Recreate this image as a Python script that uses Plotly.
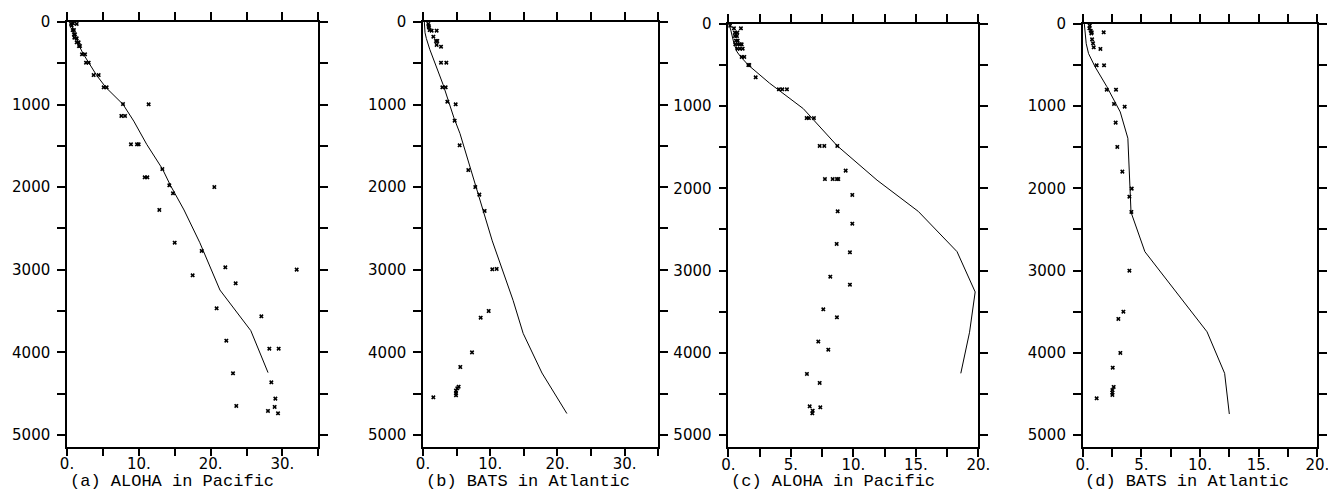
import plotly.graph_objects as go

# ---------------- data ----------------
# (a) ALOHA in Pacific  -- observations
a_obs_x = [0.56, 0.65, 0.84, 1.35, 0.79, 0.97, 0.97, 1.11, 1.02, 1.35, 1.35, 1.62, 1.67, 1.81,
           2.09, 2.51, 2.65, 3.02, 3.71, 4.41, 5.11, 5.52, 7.80, 11.37, 7.57, 8.08, 8.91, 9.75,
           9.98, 13.28, 10.82, 11.19, 14.25, 20.52, 14.76, 12.86, 15.0, 18.76, 22.05, 17.50,
           31.99, 23.49, 20.84, 27.07, 22.19, 28.18, 29.48, 23.12, 28.46, 29.02, 23.58, 28.92,
           27.99, 29.39]
a_obs_d = [24, 44, 16, 24, 97, 97, 149, 149, 190, 198, 246, 246, 291, 291,
           391, 391, 492, 492, 642, 642, 791, 791, 993, 997, 1138, 1138, 1481, 1481,
           1481, 1780, 1881, 1881, 1977, 1998, 2074, 2276, 2672, 2772, 2970, 3067,
           2998, 3164, 3466, 3563, 3858, 3955, 3955, 4253, 4362, 4560, 4649, 4661,
           4709, 4738]
a_line_x = [0.4, 0.7, 1.0, 1.7, 2.3, 3.0, 4.1, 5.4, 7.8, 9.3, 11.1, 13.3, 14.4, 16.3, 18.5,
            21.3, 25.6, 28.0]
a_line_d = [0, 50, 137, 291, 391, 492, 642, 791, 997, 1200, 1481, 1780, 1977, 2276, 2672,
            3245, 3737, 4245]

# (b) BATS in Atlantic
b_obs_x = [0.79, 0.84, 0.89, 0.99, 1.29, 2.03, 1.54, 1.93, 2.13, 2.03, 2.68, 2.68, 3.47,
           2.88, 3.37, 3.62, 4.86, 4.71, 5.45, 6.74, 7.78, 8.38, 9.17, 10.31, 10.96, 9.77,
           8.58, 7.29, 5.55, 5.30, 5.10, 4.91, 4.91, 4.91, 1.54]
b_obs_d = [24, 48, 65, 97, 105, 105, 178, 230, 230, 278, 299, 492, 492,
           791, 791, 965, 997, 1195, 1493, 1792, 1998, 2090, 2288, 2994, 2990, 3499,
           3580, 4000, 4177, 4415, 4435, 4463, 4495, 4520, 4544]
b_line_x = [0.2, 0.3, 0.5, 1.0, 3.0, 4.6, 5.5, 7.0, 8.7, 10.3, 13.4, 14.9, 17.7, 21.4]
b_line_d = [0, 130, 200, 330, 760, 1160, 1350, 1750, 2200, 2650, 3370, 3770, 4250, 4740]

# (c) ALOHA in Pacific
c_obs_x = [0.13, 0.45, 1.01, 0.53, 0.72, 0.53, 0.69, 0.61, 0.75, 0.56, 0.75, 0.93, 1.07,
           0.72, 0.93, 1.15, 1.07, 1.28, 1.60, 1.68, 2.19, 4.05, 4.32, 4.69, 6.27, 6.45,
           6.85, 7.31, 7.68, 8.72, 9.39, 7.73, 8.35, 8.69, 8.80, 9.92, 8.75, 9.92, 8.67,
           9.73, 8.16, 9.73, 7.60, 8.69, 7.20, 8.00, 6.29, 7.31, 6.51, 7.36, 6.75, 6.72]
c_obs_d = [20, 53, 53, 105, 105, 146, 146, 203, 203, 247, 247, 247, 247,
           300, 300, 300, 401, 401, 499, 499, 649, 795, 795, 795, 1144, 1144,
           1144, 1484, 1484, 1484, 1784, 1886, 1886, 1886, 1886, 2080, 2279, 2429, 2676,
           2778, 3074, 3171, 3471, 3569, 3864, 3962, 4258, 4367, 4651, 4663, 4704, 4736]
c_line_x = [0.05, 0.2, 0.45, 0.7, 1.0, 1.6, 3.3, 6.0, 8.7, 11.9, 15.2, 18.3, 19.75, 19.3, 18.6]
c_line_d = [0, 75, 235, 340, 400, 500, 720, 1030, 1480, 1900, 2280, 2770, 3260, 3750, 4250]

# (d) BATS in Atlantic
d_obs_x = [0.60, 0.57, 0.68, 0.77, 0.74, 1.79, 0.80, 0.88, 0.94, 1.51, 1.19, 1.82, 2.05,
           2.84, 2.67, 3.58, 2.81, 2.95, 3.38, 4.18, 3.98, 4.15, 3.98, 3.47, 3.04, 3.21,
           2.56, 2.64, 2.53, 2.53, 2.53, 1.19]
d_obs_d = [20, 53, 81, 101, 114, 101, 187, 235, 284, 304, 503, 503, 799,
           799, 973, 1006, 1200, 1496, 1796, 2003, 2101, 2287, 3001, 3500, 3589, 4002,
           4181, 4416, 4453, 4485, 4513, 4554]
d_line_x = [0.14, 0.2, 0.3, 0.5, 1.05, 2.05, 2.75, 3.2, 3.85, 4.03, 4.12, 5.3, 10.6, 12.1, 12.5]
d_line_d = [0, 115, 240, 360, 520, 760, 945, 1070, 1390, 2000, 2290, 2770, 3745, 4250, 4745]

titles = ["(a) ALOHA in Pacific", "(b) BATS in Atlantic",
          "(c) ALOHA in Pacific", "(d) BATS in Atlantic"]
x_max = [35, 35, 20, 20]
x_step = [5, 5, 2.5, 2.5]
y_ticks = list(range(0, 5001, 500))
y_labels = [str(v) if v % 1000 == 0 else "" for v in y_ticks]

# ---------------- layout geometry (pixels) ----------------
W, H = 1328, 502
panels_px = [(67, 318.3, 22, 446.7), (423, 658.3, 22, 446.7),
             (728.3, 978.3, 24, 447.3), (1082.7, 1317.3, 24, 447.3)]
y_bottom = [5142, 5142, 5150, 5150]

obs = [(a_obs_x, a_obs_d), (b_obs_x, b_obs_d), (c_obs_x, c_obs_d), (d_obs_x, d_obs_d)]
lines = [(a_line_x, a_line_d), (b_line_x, b_line_d), (c_line_x, c_line_d), (d_line_x, d_line_d)]

fig = go.Figure()
layout = dict(width=W, height=H, margin=dict(l=0, r=0, t=0, b=0, autoexpand=False),
              paper_bgcolor="white", plot_bgcolor="white", showlegend=False,
              font=dict(family="DejaVu Sans", color="black", size=15))
annotations = []
tick_font = dict(family="DejaVu Sans", size=15, color="black")

for i in range(4):
    sfx = "" if i == 0 else str(i + 1)
    xa, ya = "x" + sfx, "y" + sfx
    x0, x1, y0, y1 = panels_px[i]
    n = int(round(x_max[i] / x_step[i]))
    xt = [k * x_step[i] for k in range(n + 1)]
    xl = []
    for v in xt:
        if x_max[i] == 35:
            xl.append(f"{int(v)}." if v % 10 == 0 else "")
        else:
            xl.append(f"{int(v)}." if v % 5 == 0 else "")
    layout["xaxis" + sfx] = dict(
        domain=[x0 / W, x1 / W], range=[0, x_max[i]], anchor=ya, automargin=False,
        tickmode="array", tickvals=xt, ticktext=xl, ticklabeloverflow="allow",
        ticks="outside", ticklen=8, tickwidth=1.5, tickcolor="black",
        showline=True, linewidth=1.5, linecolor="black", mirror="allticks",
        showgrid=False, zeroline=False, tickfont=tick_font, ticklabelstandoff=-5)
    layout["yaxis" + sfx] = dict(
        domain=[1 - y1 / H, 1 - y0 / H], range=[y_bottom[i], 0], anchor=xa, automargin=False,
        tickmode="array", tickvals=y_ticks, ticktext=y_labels, ticklabeloverflow="allow",
        ticks="outside", ticklen=8, tickwidth=1.5, tickcolor="black",
        showline=True, linewidth=1.5, linecolor="black", mirror="allticks",
        showgrid=False, zeroline=False, tickfont=tick_font, ticklabelstandoff=4)
    lx, ld = lines[i]
    fig.add_trace(go.Scatter(x=lx, y=ld, mode="lines", xaxis=xa, yaxis=ya,
                             line=dict(color="black", width=1), hoverinfo="skip"))
    ox, od = obs[i]
    fig.add_trace(go.Scatter(x=ox, y=od, mode="markers", xaxis=xa, yaxis=ya,
                             marker=dict(symbol="x", size=4, color="black",
                                         line=dict(width=0)), hoverinfo="skip"))
    annotations.append(dict(text=titles[i], xref="paper", yref="paper",
                            x=(x0 + 0.5) / W, y=1 - 481 / H, xanchor="left", yanchor="middle",
                            showarrow=False,
                            font=dict(family="Liberation Mono", size=17, color="black")))

layout["annotations"] = annotations
fig.update_layout(**layout)
fig.write_html("out.html", config={"displayModeBar": False},
               post_script="document.body.style.margin='0';document.body.style.overflow='hidden';")
